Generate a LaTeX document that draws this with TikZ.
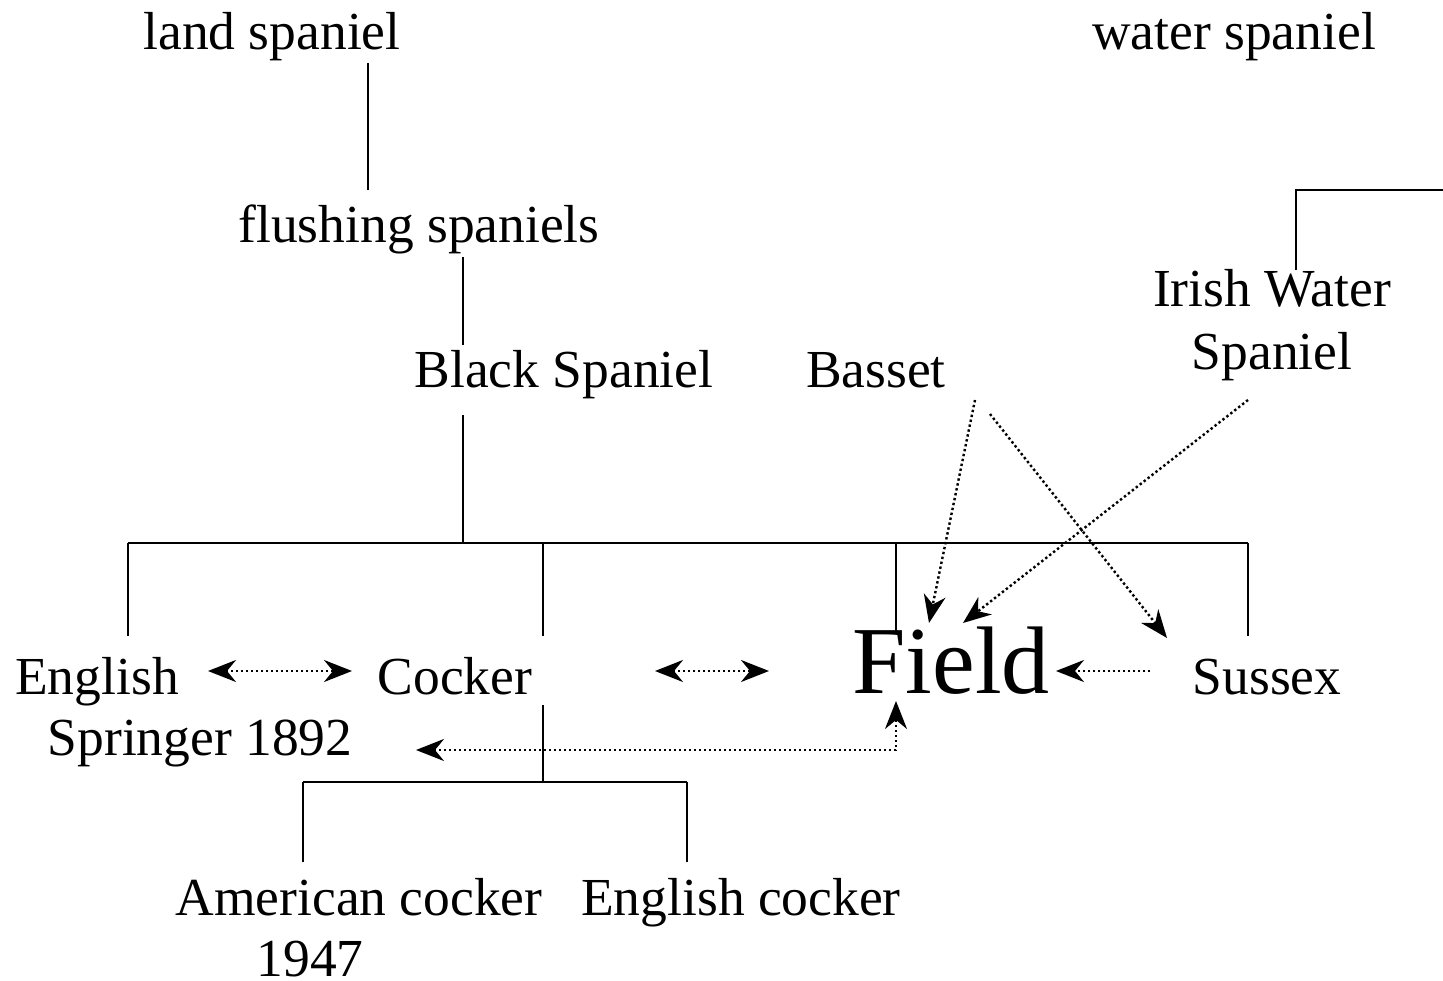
\documentclass[tikz,border=0pt]{standalone}
\usepackage{fontspec}
\setmainfont{Liberation Serif}
\usetikzlibrary{arrows.meta}
\begin{document}
\begin{tikzpicture}[x=1pt,y=-1pt,
  lbl/.style={anchor=base,inner sep=0pt,font=\fontsize{53.5}{60}\selectfont},
  big/.style={anchor=base,inner sep=0pt,font=\fontsize{96}{104}\selectfont},
  tree/.style={line width=2.2pt},
  tip/.tip={Stealth[length=28pt,width=22pt,inset=9pt]},
  rel/.style={line width=2.4pt,dash pattern=on 2.4pt off 2.6pt,-tip},
  rel2/.style={line width=2.4pt,dash pattern=on 2.4pt off 2.6pt,tip-tip}]
\useasboundingbox (0,0) rectangle (1443,981);
% labels
\node[lbl] (land) at (272,50) {land spaniel};
\node[lbl] (water) at (1234,50) {water spaniel};
\node[lbl] (flush) at (419,243) {flushing spaniels};
\node[lbl] (black) at (564,388) {Black Spaniel};
\node[lbl] (basset) at (876,388) {Basset};
\node[lbl] (irish1) at (1272,307) {Irish Water};
\node[lbl] (irish2) at (1272,370) {Spaniel};
\node[lbl] (eng1) at (97,694) {English};
\node[lbl] (eng2) at (200,755) {Springer 1892};
\node[lbl] (cocker) at (455,694) {Cocker};
\node[big] (field) at (951,693) {Field};
\node[lbl] (sussex) at (1267,694) {Sussex};
\node[lbl] (amer1) at (359,915) {American cocker};
\node[lbl] (amer2) at (310,976) {1947};
\node[lbl] (engc) at (741,915) {English cocker};
% tree coordinates
\coordinate (l1) at (368,63);
\coordinate (l2) at (368,190);
\coordinate (f1) at (463,257);
\coordinate (f2) at (463,345);
\coordinate (b1) at (463,415);
\coordinate (b2) at (463,543);
\coordinate (hL) at (128,543);
\coordinate (hR) at (1248,543);
\coordinate (vE) at (128,636);
\coordinate (vC) at (543,636);
\coordinate (vF) at (896,632);
\coordinate (vS) at (1248,636);
\coordinate (c1) at (543,705);
\coordinate (c2) at (543,782);
\coordinate (cL) at (303,782);
\coordinate (cR) at (687,782);
\coordinate (aD) at (303,862);
\coordinate (eD) at (687,862);
\coordinate (w1) at (1296,270);
\coordinate (w2) at (1296,190);
\coordinate (w3) at (1443,190);
% relation coordinates
\coordinate (r1a) at (208,671);
\coordinate (r1b) at (352,671);
\coordinate (r2a) at (655,671);
\coordinate (r2b) at (769,671);
\coordinate (r3a) at (1150,671);
\coordinate (r3b) at (1056,671);
\coordinate (r4a) at (416,750);
\coordinate (r4c) at (896,750);
\coordinate (r4b) at (896,701);
\coordinate (ba1) at (975,400);
\coordinate (ba1e) at (929,623);
\coordinate (ba2) at (990,414);
\coordinate (ba2e) at (1167,638);
\coordinate (ir1) at (1248,400);
\coordinate (ir1e) at (963,623);
% tree lines
\draw[tree] (l1) -- (l2);
\draw[tree] (f1) -- (f2);
\draw[tree] (b1) -- (b2);
\draw[tree] (hL) -- (hR);
\draw[tree] (hL) -- (vE);
\draw[tree] (vC |- hL) -- (vC);
\draw[tree] (vF |- hL) -- (vF);
\draw[tree] (hR) -- (vS);
\draw[tree] (c1) -- (c2);
\draw[tree] (cL) -- (cR);
\draw[tree] (cL) -- (aD);
\draw[tree] (cR) -- (eD);
\draw[tree] (w1) -- (w2) -- (w3);
% relations
\draw[rel2] (r1a) -- (r1b);
\draw[rel2] (r2a) -- (r2b);
\draw[rel] (r3a) -- (r3b);
\draw[rel2] (r4a) -- (r4c) -- (r4b);
\draw[rel] (ba1) -- (ba1e);
\draw[rel] (ba2) -- (ba2e);
\draw[rel] (ir1) -- (ir1e);
\end{tikzpicture}
\end{document}
